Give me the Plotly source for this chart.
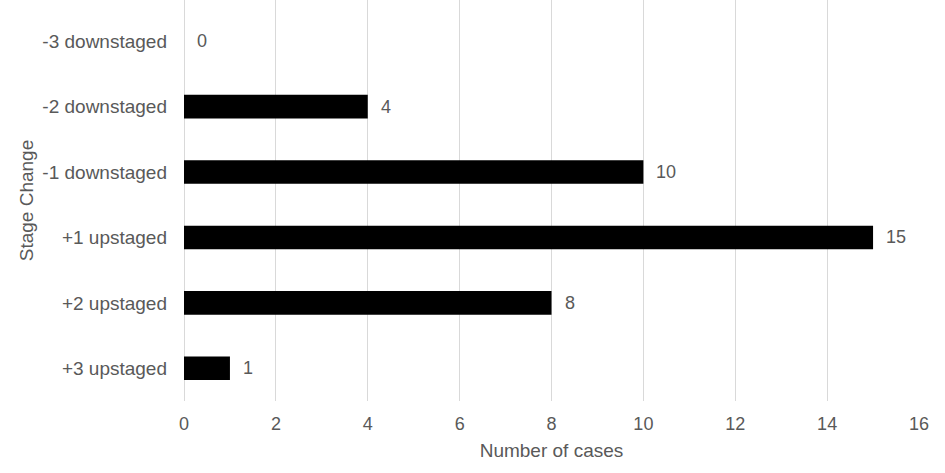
import plotly.graph_objects as go

categories = ["-3 downstaged", "-2 downstaged", "-1 downstaged", "+1 upstaged", "+2 upstaged", "+3 upstaged"]
cases = [0, 4, 10, 15, 8, 1]
x_ticks = [0, 2, 4, 6, 8, 10, 12, 14, 16]

TXT = "#595959"
FONT = "Liberation Sans"

fig = go.Figure()
fig.add_trace(go.Bar(
    x=cases, y=categories, orientation="h",
    marker=dict(color="#000000", line=dict(width=0)),
    width=0.36,
    hoverinfo="skip",
))

for c, v in zip(categories, cases):
    fig.add_annotation(x=v, y=c, text=str(v), showarrow=False,
                       xanchor="left", xshift=11,
                       font=dict(size=18, color=TXT, family=FONT))

fig.update_layout(
    width=945, height=473,
    margin=dict(l=184, r=26, t=0, b=72),
    paper_bgcolor="white", plot_bgcolor="white",
    showlegend=False,
    font=dict(family=FONT, color=TXT, size=18),
    xaxis=dict(
        range=[0, 16], tickvals=x_ticks, ticktext=[str(t) for t in x_ticks],
        showgrid=True, gridcolor="#d9d9d9", gridwidth=1,
        zeroline=True, zerolinecolor="#d9d9d9", zerolinewidth=1,
        showline=False, ticks="", ticklabelstandoff=10,
        automargin=False,
        tickfont=dict(size=18, color=TXT),
        title=dict(text="Number of cases", font=dict(size=19, color=TXT), standoff=10),
    ),
    yaxis=dict(
        type="category", categoryorder="array", categoryarray=categories,
        range=[5.5, -0.63],
        showgrid=False, zeroline=False, showline=False, ticks="",
        ticklabelstandoff=16,
        automargin=False,
        tickfont=dict(size=19, color=TXT),
        title=dict(text="Stage Change", font=dict(size=19, color=TXT), standoff=3),
    ),
)

fig.write_html("out.html", config={"displayModeBar": False},
               post_script="document.body.style.margin='0';")
